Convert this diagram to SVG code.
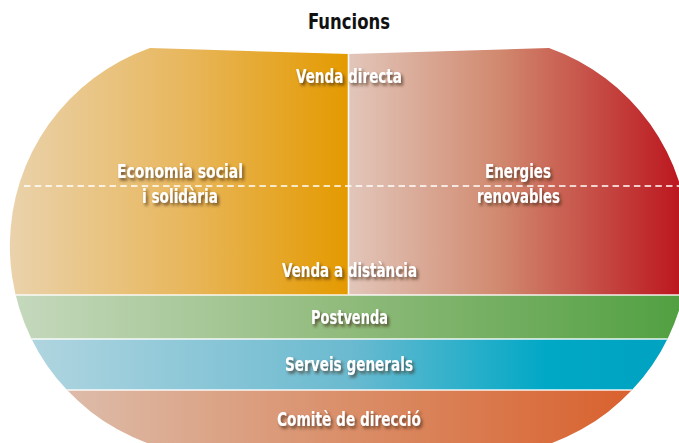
<svg xmlns="http://www.w3.org/2000/svg" width="679" height="443" viewBox="0 0 679 443">
<style>
.lbl{font-family:"Liberation Sans Narrow","DejaVu Sans Condensed","Liberation Sans",sans-serif;font-weight:bold;font-size:19px;fill:#fff;text-anchor:middle;filter:url(#sh)}
.ttl{font-family:"Liberation Sans Narrow","DejaVu Sans Condensed","Liberation Sans",sans-serif;font-weight:bold;font-size:21px;fill:#111;text-anchor:middle}
.sep{stroke:#fff;stroke-width:1.6;opacity:0.9}
</style>
<defs>
<clipPath id="outline">
<path d="M150,48 L349,54 L549,48 A210,210 0 0 1 552,443 L147,443 A210,210 0 0 1 150,48 Z"/>
</clipPath>
<linearGradient id="gOr" gradientUnits="userSpaceOnUse" x1="10" y1="0" x2="348" y2="0">
<stop offset="0" stop-color="#EAD2AB"/><stop offset="0.5" stop-color="#E8B860"/><stop offset="1" stop-color="#E49A00"/>
</linearGradient>
<linearGradient id="gRd" gradientUnits="userSpaceOnUse" x1="349" y1="0" x2="679" y2="0">
<stop offset="0" stop-color="#E2C6BA"/><stop offset="0.45" stop-color="#D18A70"/><stop offset="1" stop-color="#BC1820"/>
</linearGradient>
<linearGradient id="gGr" gradientUnits="userSpaceOnUse" x1="10" y1="0" x2="679" y2="0">
<stop offset="0" stop-color="#C6D9BE"/><stop offset="0.5" stop-color="#90BB7C"/><stop offset="1" stop-color="#52A042"/>
</linearGradient>
<linearGradient id="gBl" gradientUnits="userSpaceOnUse" x1="20" y1="0" x2="679" y2="0">
<stop offset="0" stop-color="#B2D6E0"/><stop offset="0.5" stop-color="#6BBAD0"/><stop offset="0.8" stop-color="#00A8C6"/><stop offset="1" stop-color="#00A2C0"/>
</linearGradient>
<linearGradient id="gCo" gradientUnits="userSpaceOnUse" x1="60" y1="0" x2="640" y2="0">
<stop offset="0" stop-color="#DDBDAB"/><stop offset="0.5" stop-color="#DA8E68"/><stop offset="1" stop-color="#D9602C"/>
</linearGradient>
<filter id="sh" x="-20%" y="-40%" width="140%" height="200%">
<feDropShadow dx="2" dy="2.5" stdDeviation="1.8" flood-color="#3a2010" flood-opacity="0.7"/>
</filter>
</defs>
<rect width="679" height="443" fill="#fff"/>
<text class="ttl" x="349" y="29" textLength="82" lengthAdjust="spacingAndGlyphs">Funcions</text>
<g clip-path="url(#outline)">
<g id="economia-social"><rect x="0" y="0" width="348" height="295" fill="url(#gOr)"/></g>
<g id="energies-renovables"><rect x="348" y="0" width="331" height="295" fill="url(#gRd)"/></g>
<g id="postvenda"><rect x="0" y="295" width="679" height="44" fill="url(#gGr)"/></g>
<g id="serveis-generals"><rect x="0" y="339" width="679" height="51" fill="url(#gBl)"/></g>
<g id="comite-direccio"><rect x="0" y="390" width="679" height="60" fill="url(#gCo)"/></g>
<g id="connectors">
<line class="sep" x1="348.5" y1="0" x2="348.5" y2="294"/>
<line class="sep" x1="0" y1="295" x2="679" y2="295"/>
<line class="sep" x1="0" y1="339" x2="679" y2="339"/>
<line class="sep" x1="0" y1="390" x2="679" y2="390"/>
<line x1="24" y1="186" x2="679" y2="186" stroke="#fff" stroke-width="1.3" stroke-dasharray="6.5 4.2"/>
</g>
</g>
<text class="lbl" x="349" y="83" textLength="106" lengthAdjust="spacingAndGlyphs">Venda directa</text>
<text class="lbl" x="180" y="178" textLength="126" lengthAdjust="spacingAndGlyphs">Economia social</text>
<text class="lbl" x="180" y="203" textLength="76" lengthAdjust="spacingAndGlyphs">i solidària</text>
<text class="lbl" x="518" y="178" textLength="66" lengthAdjust="spacingAndGlyphs">Energies</text>
<text class="lbl" x="518.5" y="203" textLength="83" lengthAdjust="spacingAndGlyphs">renovables</text>
<text class="lbl" x="349.5" y="277" textLength="135" lengthAdjust="spacingAndGlyphs">Venda a distància</text>
<text class="lbl" x="349.5" y="324" textLength="77" lengthAdjust="spacingAndGlyphs">Postvenda</text>
<text class="lbl" x="349" y="371" textLength="128" lengthAdjust="spacingAndGlyphs">Serveis generals</text>
<text class="lbl" x="349" y="426" textLength="144" lengthAdjust="spacingAndGlyphs">Comitè de direcció</text>
</svg>
